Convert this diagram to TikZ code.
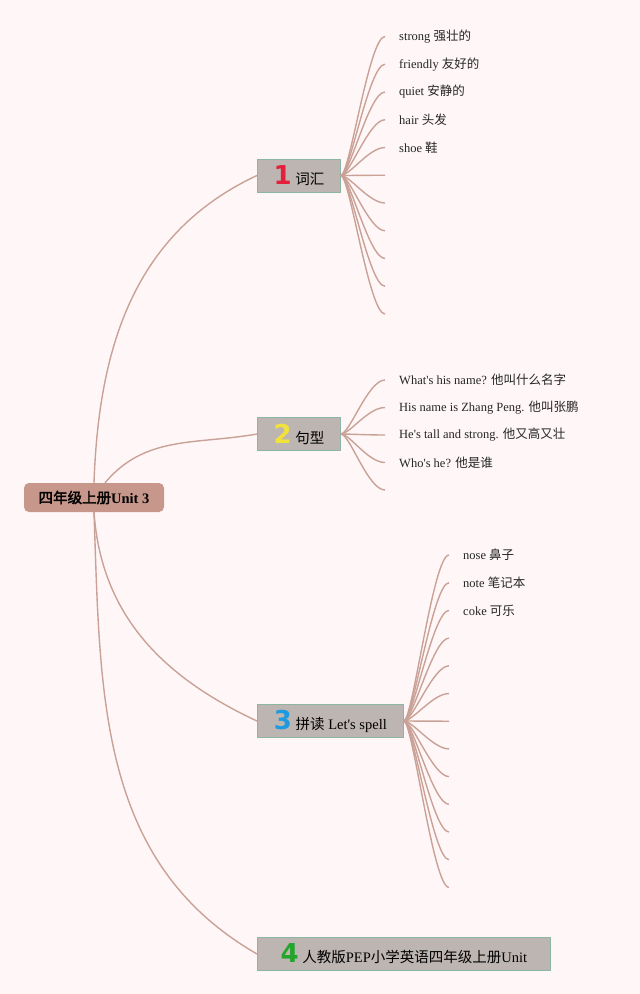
\documentclass[tikz,border=0pt]{standalone}
\usepackage{fontspec}
\setmainfont{Liberation Serif}
\newfontfamily\cjk[AutoFakeBold=2.5]{Noto Sans CJK SC}
\newfontfamily\numfont{DejaVu Sans}
\usetikzlibrary{positioning}

\definecolor{bgpink}{HTML}{FFF7F7}
\definecolor{linkbrown}{HTML}{C9A196}
\definecolor{rootfill}{HTML}{C7978B}
\definecolor{boxfill}{HTML}{BDB5B1}
\definecolor{boxline}{HTML}{8DB5A4}
\definecolor{numred}{HTML}{E3213A}
\definecolor{numyellow}{HTML}{F2E23C}
\definecolor{numblue}{HTML}{1E9BE0}
\definecolor{numgreen}{HTML}{22A52A}

\newcommand{\zh}[1]{{\cjk #1}}
\newcommand{\bignum}[2]{{\numfont\bfseries\fontsize{26}{26}\selectfont\textcolor{#1}{#2}}}
\newcommand{\ap}{\textquotesingle}

\begin{document}
\begin{tikzpicture}[
    x=1pt, y=-1pt,
    root/.style={fill=rootfill, rounded corners=5pt, minimum width=140pt,
        minimum height=29pt, font=\fontsize{14.5}{16}\selectfont\bfseries},
    topic/.style={fill=boxfill, draw=boxline, line width=0.8pt, anchor=west,
        minimum height=33pt, inner sep=0pt, font=\fontsize{14.5}{16}\selectfont},
    leaf/.style={inner sep=0pt, text=black!85, font=\fontsize{12.5}{14}\selectfont},
    link/.style={draw=linkbrown, line width=1.4pt}
]

% 背景
\fill[bgpink] (0,0) rectangle (640,994);

% 中心节点
\node[root] (root) at (94,497.5) {\zh{四年级上册}Unit 3};

% 一级节点
\node[topic, minimum width=83pt] (vocab) at (257,175.5) {\bignum{numred}{1}\ \zh{词汇}};
\node[topic, minimum width=83pt] (sent) at (257,434) {\bignum{numyellow}{2}\ \zh{句型}};
\node[topic, minimum width=146pt] (spell) at (257,721) {\bignum{numblue}{3}\ \zh{拼读} Let\ap s spell};
\node[topic, minimum width=293pt] (unit) at (257,954) {\bignum{numgreen}{4}\ \zh{人教版}PEP\zh{小学英语四年级上册}Unit};

% 中心到一级
\draw[link] (root.north) to[out=88, in=205] (vocab.west);
\draw[link] ([xshift=11pt]root.north) to[out=50, in=190] (sent.west);
\draw[link] (root.south) to[out=-86, in=155] (spell.west);
\draw[link] (root.south) to[out=-88, in=150] (unit.west);

% 词汇
\coordinate (vk) at (369,0);
\foreach \i in {1,...,11}
    \coordinate (v\i) at (385,{36.5+27.75*(\i-1)});
\foreach \i in {1,...,11}
    \draw[link] (vocab.east) .. controls +(9,0) and (vk |- v\i) .. (v\i);
\node[leaf, right=14pt of v1] (w1) {strong \zh{强壮的}};
\node[leaf, right=14pt of v2] (w2) {friendly \zh{友好的}};
\node[leaf, right=14pt of v3] (w3) {quiet \zh{安静的}};
\node[leaf, right=14pt of v4] (w4) {hair \zh{头发}};
\node[leaf, right=14pt of v5] (w5) {shoe \zh{鞋}};

% 句型
\coordinate (sk) at (368,0);
\foreach \i in {1,...,5}
    \coordinate (s\i) at (385,{380+27.5*(\i-1)});
\foreach \i in {1,...,5}
    \draw[link] (sent.east) .. controls +(9,0) and (sk |- s\i) .. (s\i);
\node[leaf, right=14pt of s1] (t1) {What\ap s his name? \zh{他叫什么名字}};
\node[leaf, right=14pt of s2] (t2) {His name is Zhang Peng. \zh{他叫张鹏}};
\node[leaf, right=14pt of s3] (t3) {He\ap s tall and strong. \zh{他又高又壮}};
\node[leaf, right=14pt of s4] (t4) {Who\ap s he? \zh{他是谁}};

% 拼读
\coordinate (pk) at (433,0);
\foreach \i in {1,...,13}
    \coordinate (p\i) at (449,{555+27.7*(\i-1)});
\foreach \i in {1,...,13}
    \draw[link] (spell.east) .. controls +(9,0) and (pk |- p\i) .. (p\i);
\node[leaf, right=14pt of p1] (q1) {nose \zh{鼻子}};
\node[leaf, right=14pt of p2] (q2) {note \zh{笔记本}};
\node[leaf, right=14pt of p3] (q3) {coke \zh{可乐}};

\end{tikzpicture}
\end{document}
